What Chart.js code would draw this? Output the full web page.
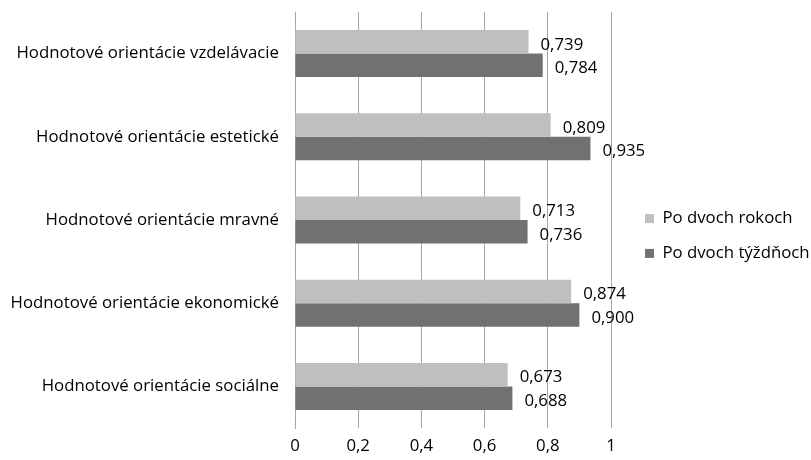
<!DOCTYPE html>
<html>
<head>
<meta charset="utf-8">
<script src="https://cdn.jsdelivr.net/npm/chart.js@4"></script>
<style>
  body { margin: 0; background: #fff; }
  #wrap { width: 811px; height: 460px; }
</style>
</head>
<body>
<div id="wrap"><canvas id="bar-chart"></canvas></div>
<script>
const categories = [
    'Hodnotové orientácie vzdelávacie',
    'Hodnotové orientácie estetické',
    'Hodnotové orientácie mravné',
    'Hodnotové orientácie ekonomické',
    'Hodnotové orientácie sociálne'
];
const poDvochRokoch = [0.739, 0.809, 0.713, 0.874, 0.673];
const poDvochTyzdnoch = [0.784, 0.935, 0.736, 0.900, 0.688];
const xTicks = [0, 0.2, 0.4, 0.6, 0.8, 1];

const FONT = 'Open Sans';
const SIZE = 16.8;
const fmt = v => String(v).replace('.', ',');

// value labels next to bar ends
const barLabels = {
    id: 'barLabels',
    afterDatasetsDraw(chart) {
        const c = chart.ctx;
        c.save();
        c.font = SIZE + 'px "' + FONT + '"';
        c.fillStyle = '#000';
        c.textAlign = 'left';
        c.textBaseline = 'middle';
        chart.data.datasets.forEach((ds, i) => {
            chart.getDatasetMeta(i).data.forEach((bar, j) => {
                c.fillText(ds.data[j].toFixed(3).replace('.', ','), bar.x + 12, bar.y + 3);
            });
        });
        c.restore();
    }
};

// fixed legend width and shift items right
const legendPos = {
    id: 'legendPos',
    beforeUpdate(chart) {
        const lg = chart.legend;
        if (lg && !lg._patched) {
            const fit = lg.fit;
            lg.fit = function () {
                fit.call(this);
                if (!this.isHorizontal()) this.width = 200;
            };
            lg._patched = true;
        }
    },
    afterLayout(chart) {
        chart.legend.left += 16;
        chart.legend.right += 16;
    }
};

const ctx = document.getElementById('bar-chart').getContext('2d');

new Chart(ctx, {
    type: 'bar',
    data: {
        labels: categories,
        datasets: [{
            label: 'Po dvoch rokoch',
            data: poDvochRokoch,
            backgroundColor: '#bfbfbf'
        }, {
            label: 'Po dvoch týždňoch',
            data: poDvochTyzdnoch,
            backgroundColor: '#717171'
        }]
    },
    options: {
        indexAxis: 'y',
        responsive: true,
        maintainAspectRatio: false,
        animation: false,
        devicePixelRatio: 1,
        layout: { padding: { top: 12, bottom: 0, left: 0, right: 0 } },
        datasets: {
            bar: { categoryPercentage: 0.565, barPercentage: 1 }
        },
        scales: {
            x: {
                min: 0,
                max: 1,
                afterBuildTicks: axis => { axis.ticks = xTicks.map(v => ({ value: v })); },
                afterFit: s => { s.height = 32; },
                grid: { color: '#a6a6a6', tickLength: 0 },
                border: { display: false },
                ticks: {
                    padding: 8,
                    color: '#000',
                    font: { family: FONT, size: SIZE },
                    callback: v => fmt(v)
                }
            },
            y: {
                afterFit: s => {
                    s.width = 295;
                    s.paddingTop = 0;
                    s.paddingBottom = 0;
                },
                grid: { display: false },
                border: { color: '#a6a6a6', width: 1 },
                ticks: {
                    padding: 8,
                    color: '#000',
                    font: { family: FONT, size: SIZE }
                }
            }
        },
        plugins: {
            legend: {
                position: 'right',
                labels: {
                    boxWidth: 9,
                    boxHeight: 9,
                    padding: 18,
                    color: '#000',
                    font: { family: FONT, size: SIZE }
                }
            },
            tooltip: { enabled: false }
        }
    },
    plugins: [barLabels, legendPos]
});
</script>
</body>
</html>
